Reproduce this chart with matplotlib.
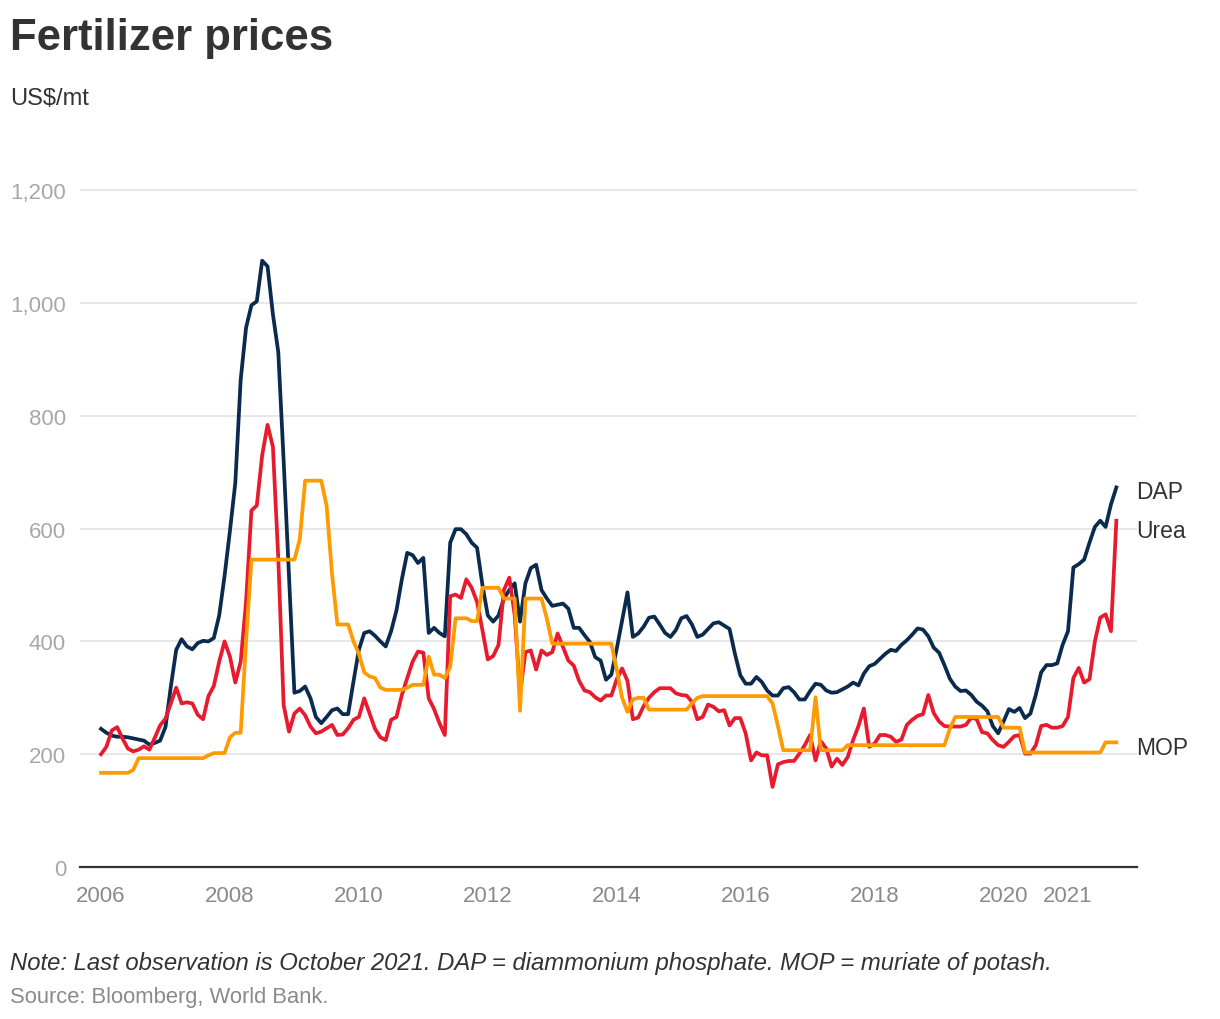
import numpy as np
import matplotlib
matplotlib.use("Agg")
import matplotlib.pyplot as plt

plt.rcParams['font.family'] = ['Liberation Sans', 'DejaVu Sans']

# Monthly prices, Jan 2006 - Oct 2021 (US$/mt)
dap = [
    245, 238, 233, 231, 231, 230, 228, 226, 224, 217, 220, 224,
    248, 320, 385, 404, 391, 386, 397, 401, 400, 406, 446, 516,
    596, 681, 864, 956, 996, 1003, 1075, 1065, 980, 913, 720, 516,
    309, 312, 320, 299, 266, 255, 266, 278, 281, 271, 271, 329,
    385, 415, 418, 410, 400, 391, 418, 455, 510, 557, 553, 539,
    548, 415, 424, 415, 409, 575, 599, 599, 590, 575, 566, 500,
    446, 435, 446, 476, 491, 503, 435, 503, 530, 536, 491, 476,
    463, 465, 467, 458, 424, 424, 411, 399, 372, 366, 332, 341,
    387, 437, 487, 408, 414, 426, 442, 444, 430, 415, 408, 420,
    441, 445, 430, 408, 412, 422, 432, 434, 428, 422, 378, 340,
    325, 325, 337, 328, 313, 304, 304, 317, 319, 310, 297, 297,
    312, 325, 323, 313, 309, 310, 315, 320, 327, 322, 343, 356,
    360, 369, 378, 385, 383, 394, 402, 412, 423, 421, 409, 389,
    380, 358, 334, 320, 312, 313, 305, 293, 286, 276, 250, 237,
    258, 280, 275, 282, 264, 272, 305, 345, 358, 358, 361, 394,
    418, 531, 537, 545, 575, 603, 614, 603, 643, 673,
]
urea = [
    200, 213, 242, 248, 228, 210, 205, 208, 214, 208, 229, 251,
    263, 290, 318, 290, 292, 290, 270, 262, 303, 321, 364, 400,
    373, 327, 364, 470, 632, 641, 730, 784, 745, 547, 287, 240,
    272, 281, 269, 249, 237, 240, 246, 252, 234, 235, 246, 261,
    266, 299, 272, 245, 230, 225, 261, 266, 305, 335, 364, 382,
    380, 299, 280, 255, 234, 480, 483, 477, 510, 495, 470, 420,
    368, 374, 394, 491, 513, 447, 307, 381, 384, 350, 384, 376,
    381, 414, 390, 366, 357, 330, 313, 310, 301, 295, 304, 304,
    333, 352, 330, 262, 265, 285, 300, 310, 317, 317, 317, 308,
    305, 304, 293, 262, 266, 288, 284, 276, 278, 251, 264, 264,
    237, 189, 203, 198, 198, 142, 182, 186, 188, 188, 201, 216,
    234, 189, 223, 210, 178, 192, 181, 195, 225, 250, 281, 213,
    219, 234, 234, 231, 222, 226, 252, 261, 268, 271, 305, 273,
    258, 250, 249, 249, 249, 252, 265, 262, 239, 237, 225, 216,
    213, 222, 232, 234, 201, 201, 216, 250, 252, 247, 247, 250,
    266, 335, 353, 327, 333, 400, 442, 448, 418, 614,
]
mop = [
    167, 167, 167, 167, 167, 167, 172, 193, 193, 193, 193, 193,
    193, 193, 193, 193, 193, 193, 193, 193, 198, 202, 202, 202,
    230, 238, 238, 400, 545, 545, 545, 545, 545, 545, 545, 545,
    545, 581, 685, 685, 685, 685, 640, 520, 430, 430, 430, 400,
    378, 345, 338, 335, 318, 314, 314, 314, 314, 318, 323, 323,
    323, 373, 341, 341, 335, 355, 441, 441, 441, 436, 436, 495,
    495, 495, 495, 476, 476, 476, 277, 476, 476, 476, 476, 440,
    396, 396, 396, 396, 396, 396, 396, 396, 396, 396, 396, 396,
    350, 300, 275, 297, 300, 300, 279, 279, 279, 279, 279, 279,
    279, 279, 290, 300, 303, 303, 303, 303, 303, 303, 303, 303,
    303, 303, 303, 303, 303, 290, 250, 207, 207, 207, 207, 207,
    207, 301, 207, 207, 207, 207, 207, 216, 216, 216, 216, 216,
    216, 216, 216, 216, 216, 216, 216, 216, 216, 216, 216, 216,
    216, 216, 245, 266, 266, 266, 266, 266, 266, 266, 266, 266,
    247, 247, 247, 247, 203, 203, 203, 203, 203, 203, 203, 203,
    203, 203, 203, 203, 203, 203, 203, 221, 221, 221,
]
start_year = 2006
series_names = ["DAP", "Urea", "MOP"]
series_colors = ["#0a2b4e", "#e81b2e", "#ff9a00"]
label_offsets_pt = [-3, -7, -4]

x_ticks = [2006, 2008, 2010, 2012, 2014, 2016, 2018, 2020, 2021]
x_ticklabels = ["2006", "2008", "2010", "2012", "2014", "2016", "2018", "2020", "2021"]
y_ticks = [0, 200, 400, 600, 800, 1000, 1200]
y_ticklabels = ["0", "200", "400", "600", "800", "1,000", "1,200"]

W, H = 1220, 1020
fig = plt.figure(figsize=(W / 100, H / 100), dpi=100)
fig.patch.set_facecolor("white")

ax_left, ax_right, ax_bottom, ax_top = 80, 1137, 868, 163
ax = fig.add_axes([ax_left / W, 1 - ax_bottom / H, (ax_right - ax_left) / W, (ax_bottom - ax_top) / H])

n = len(dap)
x = start_year + np.arange(n) / 12.0

for vals, name, col in zip([dap, urea, mop], series_names, series_colors):
    ax.plot(x[:len(vals)], vals, color=col, lw=2.7, solid_joinstyle="round", zorder=3)

px_per_year = (1068 - 101) / 15.0
ax.set_xlim(2006 - (101 - ax_left) / px_per_year, 2006 + (ax_right - 101) / px_per_year)
ax.set_ylim(0, 1250)

ax.set_xticks(x_ticks)
ax.set_xticklabels(x_ticklabels)
ax.set_yticks(y_ticks)
ax.set_yticklabels(y_ticklabels)
ax.tick_params(axis="x", length=0, pad=13, labelsize=16, labelcolor="#8a8a8a")
ax.tick_params(axis="y", length=0, pad=10, labelsize=16, labelcolor="#a8a8a8")

ax.yaxis.grid(True, color="#e3e3e3", lw=1.2, zorder=0)
ax.set_axisbelow(True)
for s in ["top", "right", "left"]:
    ax.spines[s].set_visible(False)
ax.spines["bottom"].set_color("#333333")
ax.spines["bottom"].set_linewidth(1.6)
ax.spines["bottom"].set_zorder(4)

# series labels at the end of each line
for vals, name, off in zip([dap, urea, mop], series_names, label_offsets_pt):
    ax.annotate(name, xy=(x[len(vals) - 1], vals[-1]), xytext=(14.5, off),
                textcoords="offset points", ha="left", va="center",
                fontsize=16.5, color="#333333", annotation_clip=False)

fig.text(10 / W, 1 - 50 / H, "Fertilizer prices", fontsize=31.5, fontweight="bold",
         color="#333333", ha="left", va="baseline")
fig.text(10 / W, 1 - 105 / H, "US$/mt", fontsize=17, color="#333333", ha="left", va="baseline")
fig.text(10 / W, 1 - 970 / H,
         "Note: Last observation is October 2021. DAP = diammonium phosphate. MOP = muriate of potash.",
         fontsize=17.2, style="italic", color="#333333", ha="left", va="baseline")
fig.text(10 / W, 1 - 1003 / H, "Source: Bloomberg, World Bank.", fontsize=15.8,
         color="#8a8a8a", ha="left", va="baseline")

fig.savefig("out.png", dpi=100, facecolor="white")
